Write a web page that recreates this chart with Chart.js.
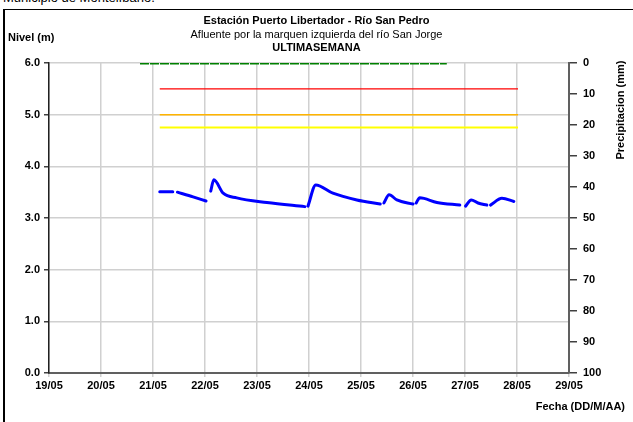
<!DOCTYPE html>
<html>
<head>
<meta charset="utf-8">
<script src="https://cdn.jsdelivr.net/npm/chart.js@4"></script>
<style>
  body { margin: 0; background: #fff; font-family: "Liberation Sans", Arial, sans-serif; }
  #wrap { position: relative; width: 633px; height: 422px; overflow: hidden; }
  #box { position: absolute; left: 3px; top: 9px; width: 640px; height: 430px; border-left: 2px solid #000; border-top: 1px solid #000; }
  .t { position: absolute; white-space: nowrap; font-size: 11px; color: #000; }
  .b { font-weight: bold; }
  canvas { position: absolute; left: 0; top: 0; }
</style>
</head>
<body>
<div id="wrap">
  <div class="t" style="left:3px; top:-10px; font-size:13px;">Municipio de Montelíbano.</div>
  <div id="box"></div>
  <canvas id="chart" width="633" height="422"></canvas>
  <div class="t b" style="left:0; width:633px; text-align:center; top:14px;">Estación Puerto Libertador - Río San Pedro</div>
  <div class="t" style="left:0; width:633px; text-align:center; top:28px;">Afluente por la marquen izquierda del río San Jorge</div>
  <div class="t b" style="left:0; width:633px; text-align:center; top:41px;">ULTIMASEMANA</div>
  <div class="t b" style="left:8px; top:31px;">Nivel (m)</div>
  <div class="t b" style="left:570px; top:104px; transform: rotate(-90deg); transform-origin: center; width:100px; text-align:center;">Precipitacion (mm)</div>
  <div class="t b" style="right:8px; top:400px;">Fecha (DD/M/AA)</div>
</div>
<script>
// days counted from 19/05 00:00
const tickLabels = ['19/05', '20/05', '21/05', '22/05', '23/05', '24/05', '25/05', '26/05', '27/05', '28/05', '29/05'];

const levelDays = [2.13, 2.38, null, 2.47, 2.77, 3.02, null, 3.11, 3.17, 3.35, 3.61, 4.19, 4.92, null,
  4.98, 5.13, 5.46, 5.92, 6.37, null, 6.44, 6.54, 6.69, 7.00, null, 7.06, 7.13, 7.46, 7.90, null,
  8.01, 8.12, 8.25, 8.42, null, 8.49, 8.71, 8.94];
const levelValues = [3.51, 3.51, null, 3.50, 3.41, 3.33, null, 3.52, 3.74, 3.48, 3.39, 3.30, 3.22, null,
  3.23, 3.64, 3.48, 3.35, 3.27, null, 3.29, 3.45, 3.35, 3.27, null, 3.29, 3.39, 3.30, 3.25, null,
  3.23, 3.35, 3.29, 3.25, null, 3.25, 3.38, 3.32];

const thresholdDays = [2.13, 9.02];
const redLevel = 5.5;
const orangeLevel = 5.0;
const yellowLevel = 4.75;

const precipDays = [1.75, 7.65];
const precipValues = [0, 0];

function pts(xs, ys) {
  return xs.map((x, i) => ({ x: x, y: ys[i] }));
}
function flat(xs, v) {
  return xs.map(x => ({ x: x, y: v }));
}

const tickFont = { family: 'Liberation Sans, Arial', size: 11, weight: 'bold' };

new Chart(document.getElementById('chart').getContext('2d'), {
  type: 'line',
  data: {
    datasets: [
      { data: pts(levelDays, levelValues), borderColor: '#0000ff', borderWidth: 3, pointRadius: 0, spanGaps: false,
        cubicInterpolationMode: 'monotone', borderCapStyle: 'round', borderJoinStyle: 'round', yAxisID: 'y' },
      { data: flat(thresholdDays, redLevel), borderColor: '#ff0000', borderWidth: 1.2, pointRadius: 0, yAxisID: 'y' },
      { data: flat(thresholdDays, orangeLevel), borderColor: '#ffb400', borderWidth: 1.5, pointRadius: 0, yAxisID: 'y' },
      { data: flat(thresholdDays, yellowLevel), borderColor: '#ffff00', borderWidth: 2, pointRadius: 0, yAxisID: 'y' },
      { data: pts(precipDays, precipValues), borderColor: '#008000', borderWidth: 3, borderDash: [9, 1], pointRadius: 0, yAxisID: 'y2' }
    ]
  },
  options: {
    responsive: false,
    animation: false,
    layout: { padding: { top: 63, left: 0, right: 0, bottom: 0 } },
    plugins: { legend: { display: false }, tooltip: { enabled: false } },
    scales: {
      x: {
        type: 'linear', min: 0, max: 10,
        afterFit: s => { s.height = 49; },
        ticks: { stepSize: 1, font: tickFont, color: '#000', padding: 2, maxRotation: 0,
          callback: (v) => tickLabels[v] },
        grid: { color: '#d0d0d0', lineWidth: 1.5, tickLength: 4 },
        border: { color: '#606060', width: 2 }
      },
      y: {
        position: 'left', min: 0, max: 6,
        afterFit: s => { s.width = 49; },
        ticks: { stepSize: 1, font: tickFont, color: '#000', padding: 4, callback: v => v.toFixed(1) },
        grid: { color: '#d0d0d0', lineWidth: 1.5, tickLength: 5, tickColor: '#404040' },
        border: { color: '#202020', width: 1.5 }
      },
      y2: {
        position: 'right', min: 0, max: 100, reverse: true,
        afterFit: s => { s.width = 64; },
        ticks: { stepSize: 10, font: tickFont, color: '#000', padding: 6 },
        grid: { drawOnChartArea: false, tickLength: 8, tickColor: '#404040', lineWidth: 1.5 },
        border: { color: '#606060', width: 2 }
      }
    }
  }
});
</script>
</body>
</html>
